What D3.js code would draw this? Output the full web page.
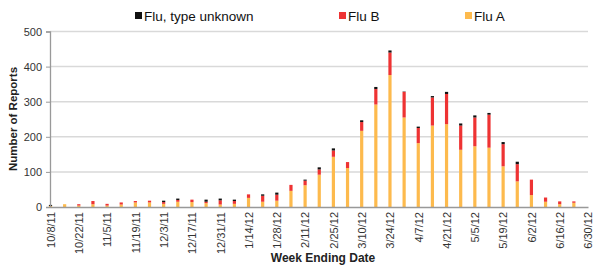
<!DOCTYPE html>
<html><head><meta charset="utf-8">
<script src="https://cdn.jsdelivr.net/npm/d3@7"></script>
<style>body{margin:0;background:#fff;}svg{display:block;font-family:"Liberation Sans",Arial,sans-serif;}</style>
</head><body><svg id="c" width="600" height="270"></svg>
<script>
const weeks = ["10/8/11","10/15/11","10/22/11","10/29/11","11/5/11","11/12/11","11/19/11","11/26/11","12/3/11","12/10/11","12/17/11","12/24/11","12/31/11","1/7/12","1/14/12","1/21/12","1/28/12","2/4/12","2/11/12","2/18/12","2/25/12","3/3/12","3/10/12","3/17/12","3/24/12","3/31/12","4/7/12","4/14/12","4/21/12","4/28/12","5/5/12","5/12/12","5/19/12","5/26/12","6/2/12","6/9/12","6/16/12","6/23/12","6/30/12"];
const fluA    = [3,8,4,8,4,7,13,13,9,15,14,11,7,9,26,15,18,46,62,92,143,111,217,292,376,255,182,232,236,163,173,169,116,73,34,15,8,12,0];
const fluB    = [0,0,4,9,5,6,4,5,5,5,7,4,12,8,10,17,17,17,13,15,18,17,25,44,64,73,43,80,86,69,82,94,63,49,44,12,8,4,0];
const fluUnk  = [3,0,0,0,0,0,0,0,4,4,0,6,5,4,0,4,6,0,3,6,6,0,5,6,6,1,4,4,6,6,6,5,6,7,0,0,0,0,0];
const yTicks  = [0,100,200,300,400,500];
const xTickLabels = weeks.filter((d,i)=>i%2===0);
const seriesNames = ["Flu A","Flu B","Flu, type unknown"];
const colors = {"Flu A":"#FDBA4D","Flu B":"#EE3333","Flu, type unknown":"#111111"};

const svg = d3.select("#c");
const parse = d3.timeParse("%-m/%-d/%y");
const dates = weeks.map(parse);
const x = d3.scaleTime().domain([dates[0], dates[dates.length-1]]).range([50.5, 588]);
const y = d3.scaleLinear().domain([0,500]).range([207, 31.5]);

// gridlines
svg.append("g").selectAll("line").data(yTicks.filter(d=>d>0)).join("line")
  .attr("x1",50).attr("x2",588).attr("y1",d=>y(d)).attr("y2",d=>y(d))
  .attr("stroke","#d9d9d9").attr("stroke-width",1.5);

// stacked bars
const table = weeks.map((w,i)=>({date:dates[i],"Flu A":fluA[i],"Flu B":fluB[i],"Flu, type unknown":fluUnk[i]}));
const stack = d3.stack().keys(seriesNames)(table);
const bw = 3.2;
svg.append("g").selectAll("g").data(stack).join("g").attr("fill",s=>colors[s.key])
  .selectAll("rect").data(s=>s).join("rect")
  .attr("x",d=>x(d.data.date)-bw/2).attr("width",bw)
  .attr("y",d=>y(d[1])).attr("height",d=>Math.max(0,y(d[0])-y(d[1])));

// y axis
const ya = svg.append("g").attr("transform","translate(50,0)")
  .call(d3.axisLeft(y).tickValues(yTicks).tickSize(4).tickPadding(4));
ya.select(".domain").attr("stroke","#999").attr("stroke-width",1.3);
ya.selectAll(".tick line").attr("stroke","#999");
ya.selectAll("text").attr("font-size",11).attr("fill","#333").attr("font-family","Liberation Sans, Arial");

// x axis
const xa = svg.append("g").attr("transform","translate(0,207)")
  .call(d3.axisBottom(x).tickValues(xTickLabels.map(parse)).tickFormat(d3.timeFormat("%-m/%-d/%y")).tickSize(0));
xa.select(".domain").attr("stroke","#999").attr("stroke-width",1.5);
xa.selectAll("text").attr("font-size",11).attr("fill","#333").attr("font-family","Liberation Sans, Arial")
  .attr("transform","rotate(-90)").attr("text-anchor","end").attr("x",-5).attr("y",0).attr("dy","0.35em");

// titles
svg.append("text").attr("x",323).attr("y",262).attr("text-anchor","middle")
  .attr("font-size",12).attr("font-weight","bold").attr("fill","#222").text("Week Ending Date");
svg.append("text").attr("transform","translate(17,119) rotate(-90)").attr("text-anchor","middle")
  .attr("font-size",11.5).attr("font-weight","bold").attr("fill","#222").text("Number of Reports");

// legend
const legendItems = [
  {name:"Flu, type unknown", x:135},
  {name:"Flu B", x:339},
  {name:"Flu A", x:465}
];
const lg = svg.append("g").selectAll("g").data(legendItems).join("g").attr("transform",d=>`translate(${d.x},0)`);
lg.append("rect").attr("x",0).attr("y",12).attr("width",7).attr("height",7).attr("fill",d=>colors[d.name]);
lg.append("text").attr("x",9).attr("y",21).attr("font-size",13.5).attr("fill","#111").text(d=>d.name);
</script></body></html>
